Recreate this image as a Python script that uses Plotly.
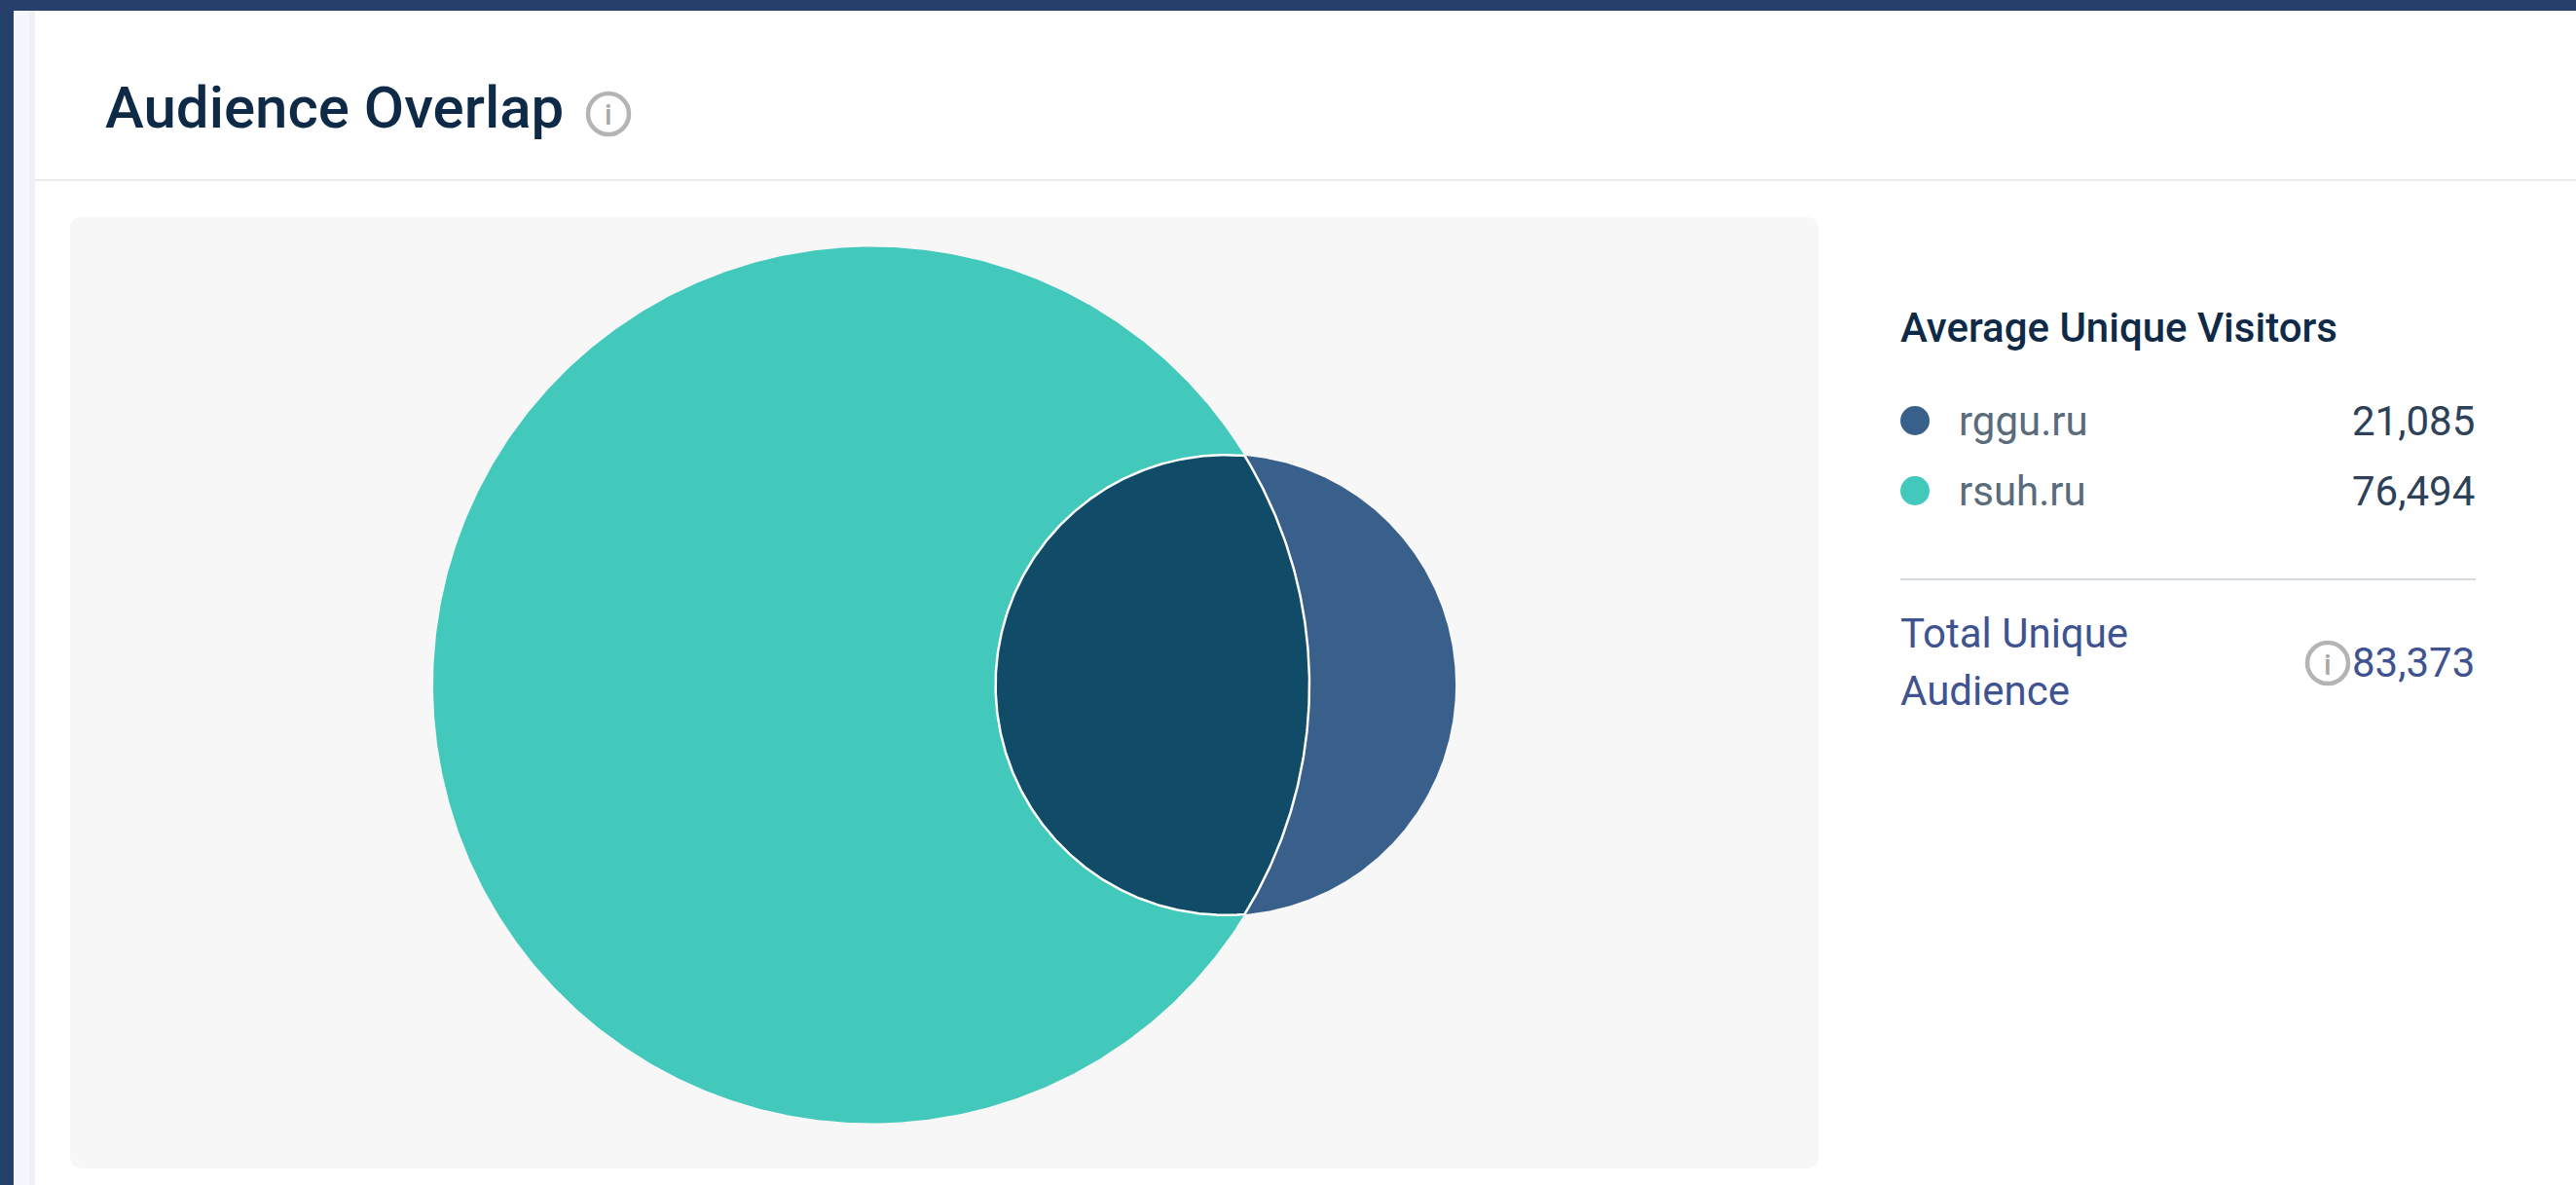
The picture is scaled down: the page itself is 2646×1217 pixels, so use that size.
import numpy as np
import plotly.graph_objects as go

# ---- data ----
sites = ["rggu.ru", "rsuh.ru"]
visitors = [21085, 76494]
total_unique = 83373
site_colors = ["#38608B", "#43C9BB"]
overlap_color = "#104B67"
title = "Audience Overlap"
legend_title = "Average Unique Visitors"
total_label_lines = ["Total Unique", "Audience"]

W, H = 2646, 1217
def px(x): return x / W
def py(y): return 1 - y / H

# area-proportional Venn geometry from the values
r_small, r_big = [np.sqrt(v / np.pi) for v in visitors]
overlap = sum(visitors) - total_unique

def lens(d):
    a = r_big**2 * np.arccos((d*d + r_big**2 - r_small**2) / (2*d*r_big))
    b = r_small**2 * np.arccos((d*d + r_small**2 - r_big**2) / (2*d*r_small))
    c = 0.5*np.sqrt((-d+r_big+r_small)*(d+r_big-r_small)*(d-r_big+r_small)*(d+r_big+r_small))
    return a + b - c

lo, hi = r_big - r_small + 1e-6, r_big + r_small - 1e-6
for _ in range(80):
    mid = (lo + hi) / 2
    if lens(mid) > overlap:
        lo = mid
    else:
        hi = mid
d = (lo + hi) / 2

scale = 450 / r_big       # pixels per unit
cx_big_px, cy_px = 895.0, 703.5
x0 = -cx_big_px / scale
x1 = (W - cx_big_px) / scale
y1 = cy_px / scale
y0 = -(H - cy_px) / scale

t = np.linspace(0, 2*np.pi, 721)
big_x, big_y = r_big*np.cos(t), r_big*np.sin(t)
small_x, small_y = d + r_small*np.cos(t), r_small*np.sin(t)

# lens outline
xi = (d*d + r_big**2 - r_small**2) / (2*d)
yi = np.sqrt(r_big**2 - xi**2)
ang_big = np.arctan2(yi, xi)
ang_small = np.arctan2(yi, xi - d)
tb = np.linspace(-ang_big, ang_big, 200)
ts = np.linspace(ang_small, 2*np.pi - ang_small, 300)
lens_x = np.r_[r_big*np.cos(tb), d + r_small*np.cos(ts)]
lens_y = np.r_[r_big*np.sin(tb), r_small*np.sin(ts)]

fig = go.Figure()
fig.add_trace(go.Scatter(x=big_x, y=big_y, mode="lines", fill="toself", fillcolor=site_colors[1],
                         line=dict(width=0, color=site_colors[1]), name=sites[1], hoverinfo="name"))
fig.add_trace(go.Scatter(x=small_x, y=small_y, mode="lines", fill="toself", fillcolor=site_colors[0],
                         line=dict(width=0, color=site_colors[0]), name=sites[0], hoverinfo="name"))
fig.add_trace(go.Scatter(x=lens_x, y=lens_y, mode="lines", fill="toself", fillcolor=overlap_color,
                         line=dict(width=2.5, color="#FFFFFF"), name="overlap", hoverinfo="name"))

def rect(x_a, y_a, x_b, y_b, color):
    return dict(type="rect", xref="paper", yref="paper", x0=px(x_a), x1=px(x_b), y0=py(y_a), y1=py(y_b),
                fillcolor=color, line_width=0, layer="below")

def rrect(x_a, y_a, x_b, y_b, r, color):
    p = (f"M {px(x_a+r)} {py(y_a)} L {px(x_b-r)} {py(y_a)} Q {px(x_b)} {py(y_a)} {px(x_b)} {py(y_a+r)} "
         f"L {px(x_b)} {py(y_b-r)} Q {px(x_b)} {py(y_b)} {px(x_b-r)} {py(y_b)} "
         f"L {px(x_a+r)} {py(y_b)} Q {px(x_a)} {py(y_b)} {px(x_a)} {py(y_b-r)} "
         f"L {px(x_a)} {py(y_a+r)} Q {px(x_a)} {py(y_a)} {px(x_a+r)} {py(y_a)} Z")
    return dict(type="path", xref="paper", yref="paper", path=p, fillcolor=color, line_width=0, layer="below")

def dot(cx, cy, r, fill, line_color=None, lw=0):
    return dict(type="circle", xref="paper", yref="paper", x0=px(cx-r), x1=px(cx+r), y0=py(cy+r), y1=py(cy-r),
                fillcolor=fill, line=dict(color=line_color or fill, width=lw))

shapes = [
    rect(0, 0, W, 11, "#27406B"),
    rect(0, 0, 14, H, "#27406B"),
    rect(14, 11, 30, H, "#F4F7FC"),
    rect(30, 11, 36, H, "#EEF2F7"),
    rect(36, 184, W, 186, "#E9EBEF"),
    rrect(72, 223, 1868, 1200, 12, "#F7F7F7"),
    dict(type="line", xref="paper", yref="paper", x0=px(1952), x1=px(2543), y0=py(595), y1=py(595),
         line=dict(color="#D5DADF", width=2)),
    dot(1967, 432, 15, site_colors[0]),
    dot(1967, 504, 15, site_colors[1]),
    dot(625, 117, 21, "rgba(0,0,0,0)", "#B4B4B4", 4.5),
    dot(2391, 681, 21, "rgba(0,0,0,0)", "#B4B4B4", 4.5),
]

def txt(x, y, s, size, color, anchor="left", weight=400):
    return dict(x=px(x), y=py(y), xref="paper", yref="paper", text=s, showarrow=False, xanchor=anchor,
                yanchor="middle", align=anchor, font=dict(family="Roboto", size=size, color=color, weight=weight),
                borderpad=0, borderwidth=0)

ann = [
    txt(108, 110, title, 60, "#0F2A47", weight=500),
    txt(1952, 336, legend_title, 42, "#0F2A47", weight=500),
    txt(2012, 432, sites[0], 42, "#5A6B7B"),
    txt(2012, 504, sites[1], 42, "#5A6B7B"),
    txt(2542, 432, f"{visitors[0]:,}", 42, "#2D4158", "right"),
    txt(2542, 504, f"{visitors[1]:,}", 42, "#2D4158", "right"),
    txt(1952, 650, total_label_lines[0], 42, "#3F5391"),
    txt(1952, 709, total_label_lines[1], 42, "#3F5391"),
    txt(2542, 680, f"{total_unique:,}", 42, "#3F5391", "right"),
    txt(625, 118, "i", 30, "#A8A8A8", "center", 500),
    txt(2391, 682, "i", 30, "#A8A8A8", "center", 500),
]

fig.update_layout(
    width=W, height=H, margin=dict(l=0, r=0, t=0, b=0),
    paper_bgcolor="#FFFFFF", plot_bgcolor="rgba(0,0,0,0)", showlegend=False,
    xaxis=dict(range=[x0, x1], visible=False, fixedrange=True),
    yaxis=dict(range=[y0, y1], visible=False, fixedrange=True),
    shapes=shapes, annotations=ann,
)
fig.write_html("out.html", config=dict(displayModeBar=False),
               post_script="document.body.style.margin='0';document.body.style.overflow='hidden';")
